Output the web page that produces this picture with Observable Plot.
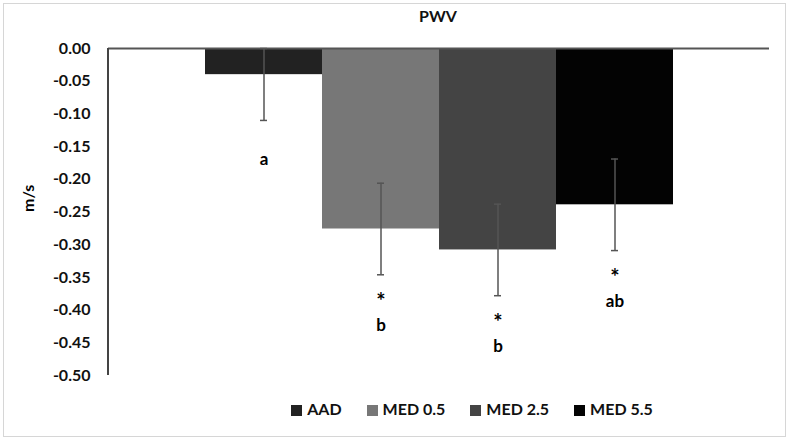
<!DOCTYPE html>
<html><head><meta charset="utf-8">
<script src="https://cdn.jsdelivr.net/npm/d3@7"></script>
<script src="https://cdn.jsdelivr.net/npm/@observablehq/plot@0.6"></script>
<style>
html,body{margin:0;padding:0;background:#fff;}
#wrap{position:relative;width:790px;height:442px;font-family:Lato,"Open Sans",sans-serif;font-weight:bold;color:#111;}
#frame{position:absolute;left:3px;top:3px;width:781px;height:432px;border:1px solid #d6d6d6;}
#title{position:absolute;left:0;width:876px;top:6px;text-align:center;font-size:16px;}
#legend{position:absolute;left:0;width:944px;top:399px;display:flex;justify-content:center;gap:25px;font-size:16px;}
#legend span.sw{display:inline-block;width:11px;height:11px;margin-right:5px;vertical-align:-1px;}
#chart{position:absolute;left:0;top:0;}
</style></head>
<body>
<div id="wrap">
  <div id="frame"></div>
  <div id="chart"></div>
  <div id="title">PWV</div>
  <div id="legend"></div>
</div>
<script>
const series = ["AAD", "MED 0.5", "MED 2.5", "MED 5.5"];
const values = [-0.04, -0.276, -0.308, -0.239];
const errLow = [-0.11, -0.346, -0.378, -0.309];
const errHigh = [0.0, -0.206, -0.238, -0.169];
const stars = ["", "*", "*", "*"];
const letters = ["a", "b", "b", "ab"];
const colors = ["#222222", "#777777", "#444444", "#030303"];
const yTicks = [0, -0.05, -0.10, -0.15, -0.20, -0.25, -0.30, -0.35, -0.40, -0.45, -0.50];

const data = series.map((s, i) => ({s, v: values[i], lo: errLow[i], hi: errHigh[i], star: stars[i], letter: letters[i]}));

const chart = Plot.plot({
  width: 790, height: 442,
  marginLeft: 108, marginRight: 21, marginTop: 48, marginBottom: 67,
  style: {fontFamily: "Lato, 'Open Sans', sans-serif", fontWeight: "bold", fontSize: "16px", color: "#111", background: "transparent"},
  x: {domain: series, paddingInner: 0, paddingOuter: 0.819, axis: null},
  y: {domain: [-0.5, 0], ticks: yTicks, tickFormat: d => d.toFixed(2), tickSize: 0, tickPadding: 18, label: null},
  color: {domain: series, range: colors},
  marks: [
    Plot.barY(data, {x: "s", y: "v", fill: "s"}),
    Plot.ruleY([0], {stroke: "#555", strokeWidth: 2}),
    Plot.ruleX(data, {x: "s", y1: "lo", y2: "hi", stroke: "#555", strokeWidth: 1.5}),
    Plot.tickY(data, {x: "s", y: "lo", stroke: "#555", strokeWidth: 1.5, inset: 55}),
    Plot.tickY(data, {x: "s", y: "hi", stroke: "#555", strokeWidth: 1.5, inset: 55}),
    Plot.text(data.filter(d => d.star), {x: "s", y: "lo", text: "star", dy: 27, fontSize: 22, fill: "#000"}),
    Plot.text(data.filter(d => d.star), {x: "s", y: "lo", text: "letter", dy: 51, fontSize: 17, fill: "#000"}),
    Plot.text(data.filter(d => !d.star), {x: "s", y: "lo", text: "letter", dy: 39, fontSize: 17, fill: "#000"}),
    Plot.text(["m/s"], {frameAnchor: "left", dx: -80, rotate: -90, fontSize: 16, fill: "#000"})
  ]
});
document.getElementById("chart").appendChild(chart);
const svg = d3.select(chart);
const yScale = chart.scale("y");
svg.append("line").attr("x1", 108).attr("x2", 108)
  .attr("y1", yScale.apply(0)).attr("y2", yScale.apply(-0.5))
  .attr("stroke", "#444").attr("stroke-width", 2);

const leg = document.getElementById("legend");
series.forEach((s, i) => {
  const d = document.createElement("div");
  d.innerHTML = `<span class="sw" style="background:${colors[i]}"></span>${s}`;
  leg.appendChild(d);
});
</script>
</body></html>
